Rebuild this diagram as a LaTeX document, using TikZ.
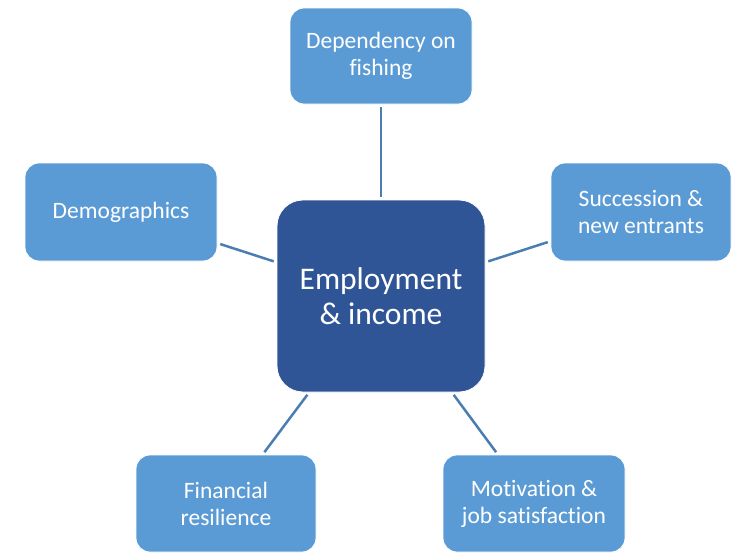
\documentclass[tikz,border=0pt]{standalone}
\usepackage{fontspec}
\setmainfont[Ligatures=NoCommon]{Carlito}
\definecolor{lightblue}{HTML}{5B9BD5}
\definecolor{darkblue}{HTML}{2F5597}
\definecolor{linkblue}{HTML}{4A7EB3}
\begin{document}
\begin{tikzpicture}[x=1pt,y=-1pt,
        factor/.style={fill=lightblue, draw=white, line width=0.8pt, rounded corners=14pt,
          text=white, align=center, inner sep=0pt, font=\fontsize{23.5}{27}\selectfont},
        core/.style={fill=darkblue, draw=white, line width=0.8pt, rounded corners=26pt,
          text=white, align=center, inner sep=0pt, font=\fontsize{31.5}{35}\selectfont,
          minimum width=208pt, minimum height=192pt},
        link/.style={draw=linkblue, line width=2.5pt, shorten >=3pt, shorten <=3pt}]
        \useasboundingbox (0,0) rectangle (740,554);

        \node[core] (income) at (381,296) {Employment\\\& income};

        \node[factor, minimum width=182pt, minimum height=96pt] (fishing) at (381,56) {Dependency on\\fishing};
        \node[factor, minimum width=192pt, minimum height=98pt] (demo) at (121,212) {Demographics};
        \node[factor, minimum width=180pt, minimum height=98pt] (succession) at (641,212) {Succession \&\\new entrants};
        \node[factor, minimum width=180pt, minimum height=97pt] (resilience) at (226,503.5) {Financial\\resilience};
        \node[factor, minimum width=182pt, minimum height=97pt] (motivation) at (534,503.5) {Motivation \&\\job satisfaction};

        \draw[link] (fishing) -- (income);
        \draw[link] (demo) -- (income);
        \draw[link] (succession) -- (income);
        \draw[link] (resilience) -- (income);
        \draw[link] (motivation) -- (income);

\end{tikzpicture}
\end{document}
